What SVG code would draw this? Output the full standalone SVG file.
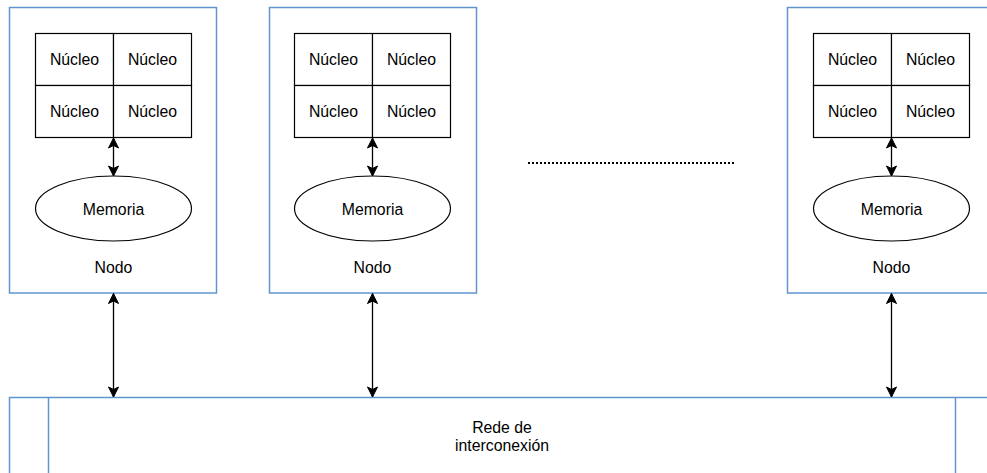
<svg xmlns="http://www.w3.org/2000/svg" width="987" height="473" viewBox="0 0 987 473">
  <style>
    .box { fill: #ffffff; stroke: #5f96d0; stroke-width: 1.5; }
    .cell { fill: #ffffff; stroke: #000000; stroke-width: 1.2; }
    .mem { fill: #ffffff; stroke: #000000; stroke-width: 1.2; }
    .lbl { font-family: "Liberation Sans", Arial, sans-serif; font-size: 15.8px; fill: #000000; text-anchor: middle; dominant-baseline: central; }
    .link { stroke: #000000; stroke-width: 1.3; fill: none; marker-start: url(#arr); marker-end: url(#arr); }
  </style>
  <defs>
    <marker id="arr" markerUnits="userSpaceOnUse" viewBox="-12 -7 14 14" refX="0" refY="0" markerWidth="14" markerHeight="14" orient="auto-start-reverse">
      <path d="M0,0 L-10,-5 L-7.5,0 L-10,5 Z" fill="#000000" stroke="#000000" stroke-width="1" stroke-linejoin="miter"/>
    </marker>
  </defs>

  <!-- interconnection network -->
  <g id="network">
    <rect class="box" x="9.5" y="397.5" width="985" height="90"/>
    <line x1="48.5" y1="397.5" x2="48.5" y2="487.5" stroke="#5f96d0" stroke-width="1.5"/>
    <line x1="955.5" y1="397.5" x2="955.5" y2="487.5" stroke="#5f96d0" stroke-width="1.5"/>
    <text class="lbl" x="502" y="427">Rede de</text>
    <text class="lbl" x="502" y="445">interconexión</text>
  </g>

  <!-- node 1 -->
  <g id="node1">
    <rect class="box" x="9.5" y="7.5" width="207" height="285.5"/>
    <rect class="cell" x="35.5" y="33.5" width="78" height="52"/>
    <rect class="cell" x="113.5" y="33.5" width="78" height="52"/>
    <rect class="cell" x="35.5" y="85.5" width="78" height="52"/>
    <rect class="cell" x="113.5" y="85.5" width="78" height="52"/>
    <text class="lbl" x="74.5" y="59.5">Núcleo</text>
    <text class="lbl" x="152.5" y="59.5">Núcleo</text>
    <text class="lbl" x="74.5" y="111.5">Núcleo</text>
    <text class="lbl" x="152.5" y="111.5">Núcleo</text>
    <ellipse class="mem" cx="113.5" cy="208.5" rx="78" ry="32.5"/>
    <text class="lbl" x="113.5" y="209">Memoria</text>
    <text class="lbl" x="113.5" y="267">Nodo</text>
  </g>

  <!-- node 2 -->
  <g id="node2">
    <rect class="box" x="269.5" y="7.5" width="207" height="285.5"/>
    <rect class="cell" x="294.5" y="33.5" width="78" height="52"/>
    <rect class="cell" x="372.5" y="33.5" width="78" height="52"/>
    <rect class="cell" x="294.5" y="85.5" width="78" height="52"/>
    <rect class="cell" x="372.5" y="85.5" width="78" height="52"/>
    <text class="lbl" x="333.5" y="59.5">Núcleo</text>
    <text class="lbl" x="411.5" y="59.5">Núcleo</text>
    <text class="lbl" x="333.5" y="111.5">Núcleo</text>
    <text class="lbl" x="411.5" y="111.5">Núcleo</text>
    <ellipse class="mem" cx="372.5" cy="208.5" rx="78" ry="32.5"/>
    <text class="lbl" x="372.5" y="209">Memoria</text>
    <text class="lbl" x="372.5" y="267">Nodo</text>
  </g>

  <!-- node 3 -->
  <g id="node3">
    <rect class="box" x="787.5" y="7.5" width="207" height="285.5"/>
    <rect class="cell" x="813.5" y="33.5" width="78" height="52"/>
    <rect class="cell" x="891.5" y="33.5" width="78" height="52"/>
    <rect class="cell" x="813.5" y="85.5" width="78" height="52"/>
    <rect class="cell" x="891.5" y="85.5" width="78" height="52"/>
    <text class="lbl" x="852.5" y="59.5">Núcleo</text>
    <text class="lbl" x="930.5" y="59.5">Núcleo</text>
    <text class="lbl" x="852.5" y="111.5">Núcleo</text>
    <text class="lbl" x="930.5" y="111.5">Núcleo</text>
    <ellipse class="mem" cx="891.5" cy="208.5" rx="78" ry="32.5"/>
    <text class="lbl" x="891.5" y="209">Memoria</text>
    <text class="lbl" x="891.5" y="267">Nodo</text>
  </g>

  <!-- ellipsis between nodes -->
  <g id="ellipsis">
    <line x1="528" y1="163" x2="734" y2="163" stroke="#000000" stroke-width="2" stroke-dasharray="2 2"/>
  </g>

  <!-- connectors -->
  <g id="connectors">
    <line class="link" x1="113.5" y1="138" x2="113.5" y2="176"/>
    <line class="link" x1="372.5" y1="138" x2="372.5" y2="176"/>
    <line class="link" x1="891.5" y1="138" x2="891.5" y2="176"/>
    <line class="link" x1="113.5" y1="293.5" x2="113.5" y2="397"/>
    <line class="link" x1="372.5" y1="293.5" x2="372.5" y2="397"/>
    <line class="link" x1="891.5" y1="293.5" x2="891.5" y2="397"/>
  </g>
</svg>
